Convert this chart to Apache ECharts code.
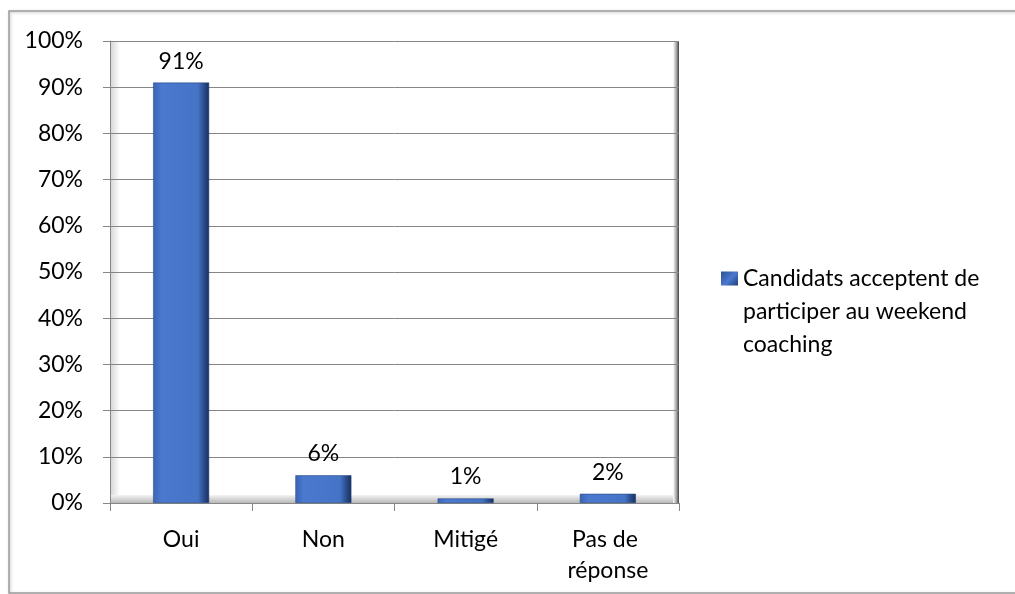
<!DOCTYPE html>
<html><head><meta charset="utf-8">
<script src="https://cdn.jsdelivr.net/npm/echarts@6/dist/echarts.min.js"></script>
<style>html,body{margin:0;padding:0;background:#fff}#c{width:1015px;height:594px}</style>
</head><body><div id="c"></div>
<script>
const categories = ['Oui', 'Non', 'Mitigé', 'Pas de réponse'];
const values = [91, 6, 1, 2];
const seriesName = 'Candidats acceptent de\nparticiper au weekend\ncoaching';
const yTicks = [0, 10, 20, 30, 40, 50, 60, 70, 80, 90, 100];

const chart = echarts.init(document.getElementById('c'), null, {renderer: 'canvas'});
const font = 'Lato, "Open Sans", sans-serif';
const FS = 23;
const barColor = new echarts.graphic.LinearGradient(0, 0, 1, 0, [
  {offset: 0, color: '#3b64b4'},
  {offset: 0.15, color: '#4a79cf'},
  {offset: 0.8, color: '#4573c6'},
  {offset: 0.9, color: '#2c4f91'},
  {offset: 1, color: '#17305e'}
]);
const legendColor = new echarts.graphic.LinearGradient(0, 0, 1, 0.2, [
  {offset: 0, color: '#2c4f91'},
  {offset: 0.5, color: '#4a79cf'},
  {offset: 1, color: '#1c3a70'}
]);
chart.setOption({
  animation: false,
  backgroundColor: '#fff',
  textStyle: {fontFamily: font},
  graphic: [
    {type: 'rect', shape: {x: 9, y: 11, width: 1020, height: 582}, silent: true, z: -10,
     style: {fill: 'none', stroke: '#9a9a9a', lineWidth: 1.5, shadowColor: 'rgba(0,0,0,0.25)', shadowBlur: 3, shadowOffsetX: 1, shadowOffsetY: 1}},
    {type: 'rect', shape: {x: 111, y: 41, width: 9, height: 462}, silent: true, z: -1,
     style: {fill: new echarts.graphic.LinearGradient(0, 0, 1, 0, [{offset: 0, color: '#d8d8d8'}, {offset: 1, color: '#ffffff'}])}},
    {type: 'rect', shape: {x: 111, y: 495, width: 568, height: 8}, silent: true, z: -1,
     style: {fill: new echarts.graphic.LinearGradient(0, 0, 0, 1, [{offset: 0, color: '#f4f4f4'}, {offset: 1, color: '#b8b8b8'}])}},
    {type: 'rect', shape: {x: 673, y: 41, width: 6, height: 462}, silent: true, z: -1,
     style: {fill: new echarts.graphic.LinearGradient(0, 0, 1, 0, [{offset: 0, color: '#ffffff'}, {offset: 0.6, color: '#a0a0a0'}, {offset: 1, color: '#404040'}])}}
  ],
  grid: {left: 110, right: 336, top: 41, bottom: 91, containLabel: false},
  legend: {
    orient: 'vertical', left: 721, top: 262, padding: 0,
    itemWidth: 17, itemHeight: 80, itemGap: 6,
    icon: 'path://M0,0h17v14h-17z M0,80L0.01,80z',
    itemStyle: {borderWidth: 0, color: legendColor},
    textStyle: {fontSize: FS, color: '#000', lineHeight: 33, fontFamily: font},
    data: [seriesName]
  },
  xAxis: {
    type: 'category', data: categories,
    axisLine: {show: true, lineStyle: {color: '#868686', width: 1}},
    axisTick: {show: true, length: 8, lineStyle: {color: '#868686'}},
    axisLabel: {interval: 0, fontSize: FS, color: '#000', margin: 21, width: 110, overflow: 'break', lineHeight: 31, fontFamily: font}
  },
  yAxis: {
    type: 'value', min: 0, max: 100, interval: 10,
    axisLine: {show: true, lineStyle: {color: '#868686'}},
    axisTick: {show: true, length: 7, lineStyle: {color: '#868686'}},
    axisLabel: {fontSize: FS, color: '#000', margin: 27, formatter: v => yTicks.includes(v) ? v + '%' : '', fontFamily: font},
    splitLine: {show: true, lineStyle: {color: '#868686', width: 1}}
  },
  series: [{
    name: seriesName, type: 'bar', data: values, barWidth: 56,
    itemStyle: {color: barColor, borderColor: '#23417a', borderWidth: 0.5},
    label: {show: true, position: 'top', distance: 10, fontSize: FS, color: '#000', formatter: p => p.value + '%', fontFamily: font}
  }]
});
</script></body></html>
